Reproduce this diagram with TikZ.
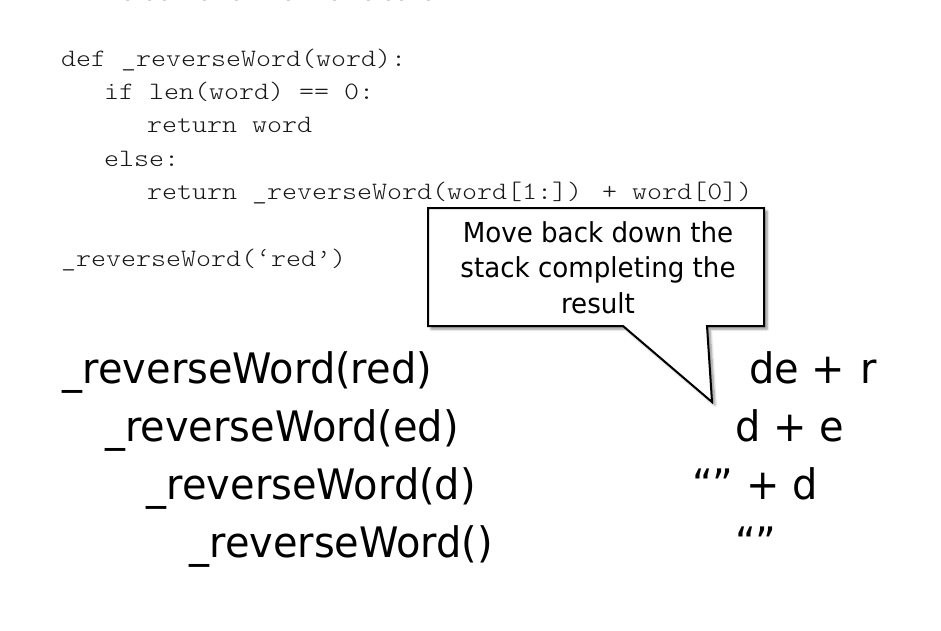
\documentclass[tikz,border=0pt]{standalone}
\usepackage{fontspec}
\setmainfont{DejaVu Sans}
\newfontfamily\tah{DejaVu Sans}[FakeStretch=0.95]
\newfontfamily\cour{lmmonolt10-regular.otf}[FakeStretch=1.143]
\usetikzlibrary{shadows.blur}
\begin{document}
\begin{tikzpicture}[x=1pt,y=-1pt,
  code/.style={anchor=base west, inner sep=0pt, font=\cour\fontsize{25}{30}\selectfont, text=black!90},
  big/.style={anchor=base west, inner sep=0pt, font=\tah\fontsize{42}{50}\selectfont},
  calltext/.style={anchor=base, inner sep=0pt, font=\tah\fontsize{27.5}{35}\selectfont},
  callout/.style={draw=black, line width=2pt, fill=white, line join=miter,
    blur shadow={shadow xshift=3pt, shadow yshift=-3pt, shadow blur steps=6, shadow blur radius=2.5pt, shadow opacity=45}},
  frag/.style={fill=black!18, draw=none}]
\useasboundingbox (0,0) rectangle (941,630);
% cut-off fragments at the top edge
\foreach \xx in {127,149,164,204,236,288,334,368,388,401,428}
  \path[frag] (\xx-1.5,0) rectangle (\xx+1.5,1);
% code
\node[code] (l1) at (61,66) {def \_reverseWord(word):};
\node[code] (l2) at (104,99.3) {if len(word) == 0:};
\node[code] (l3) at (147,132.7) {return word};
\node[code] (l4) at (104,166) {else:};
\node[code] (l5) at (147,199.3) {return \_reverseWord(word[1:]) + word[0])};
\node[code] (l6) at (61,266) {\_reverseWord(‘red’)};
% callout
\path[callout] (428,208) -- (764,208) -- (764,326) -- (707,326) -- (712,402) -- (623,326) -- (428,326) -- cycle;
\node[calltext] (c1) at (598,242.7) {Move back down the};
\node[calltext] (c2) at (598,277.7) {stack completing the};
\node[calltext] (c3) at (598,313) {result};
% call stack
\node[big] (s1) at (62.7,383) {\_reverseWord(red)};
\node[big] (s2) at (105,441) {\_reverseWord(ed)};
\node[big] (s3) at (146.7,499) {\_reverseWord(d)};
\node[big] (s4) at (189.3,557) {\_reverseWord()};
% results
\node[big] (r1) at (749,383) {de +\hspace{3pt} r};
\node[big] (r2) at (735,441) {d + e};
\node[big] (r3) at (692,499) {“” + d};
\node[big] (r4) at (735,557) {“”};
\end{tikzpicture}
\end{document}
